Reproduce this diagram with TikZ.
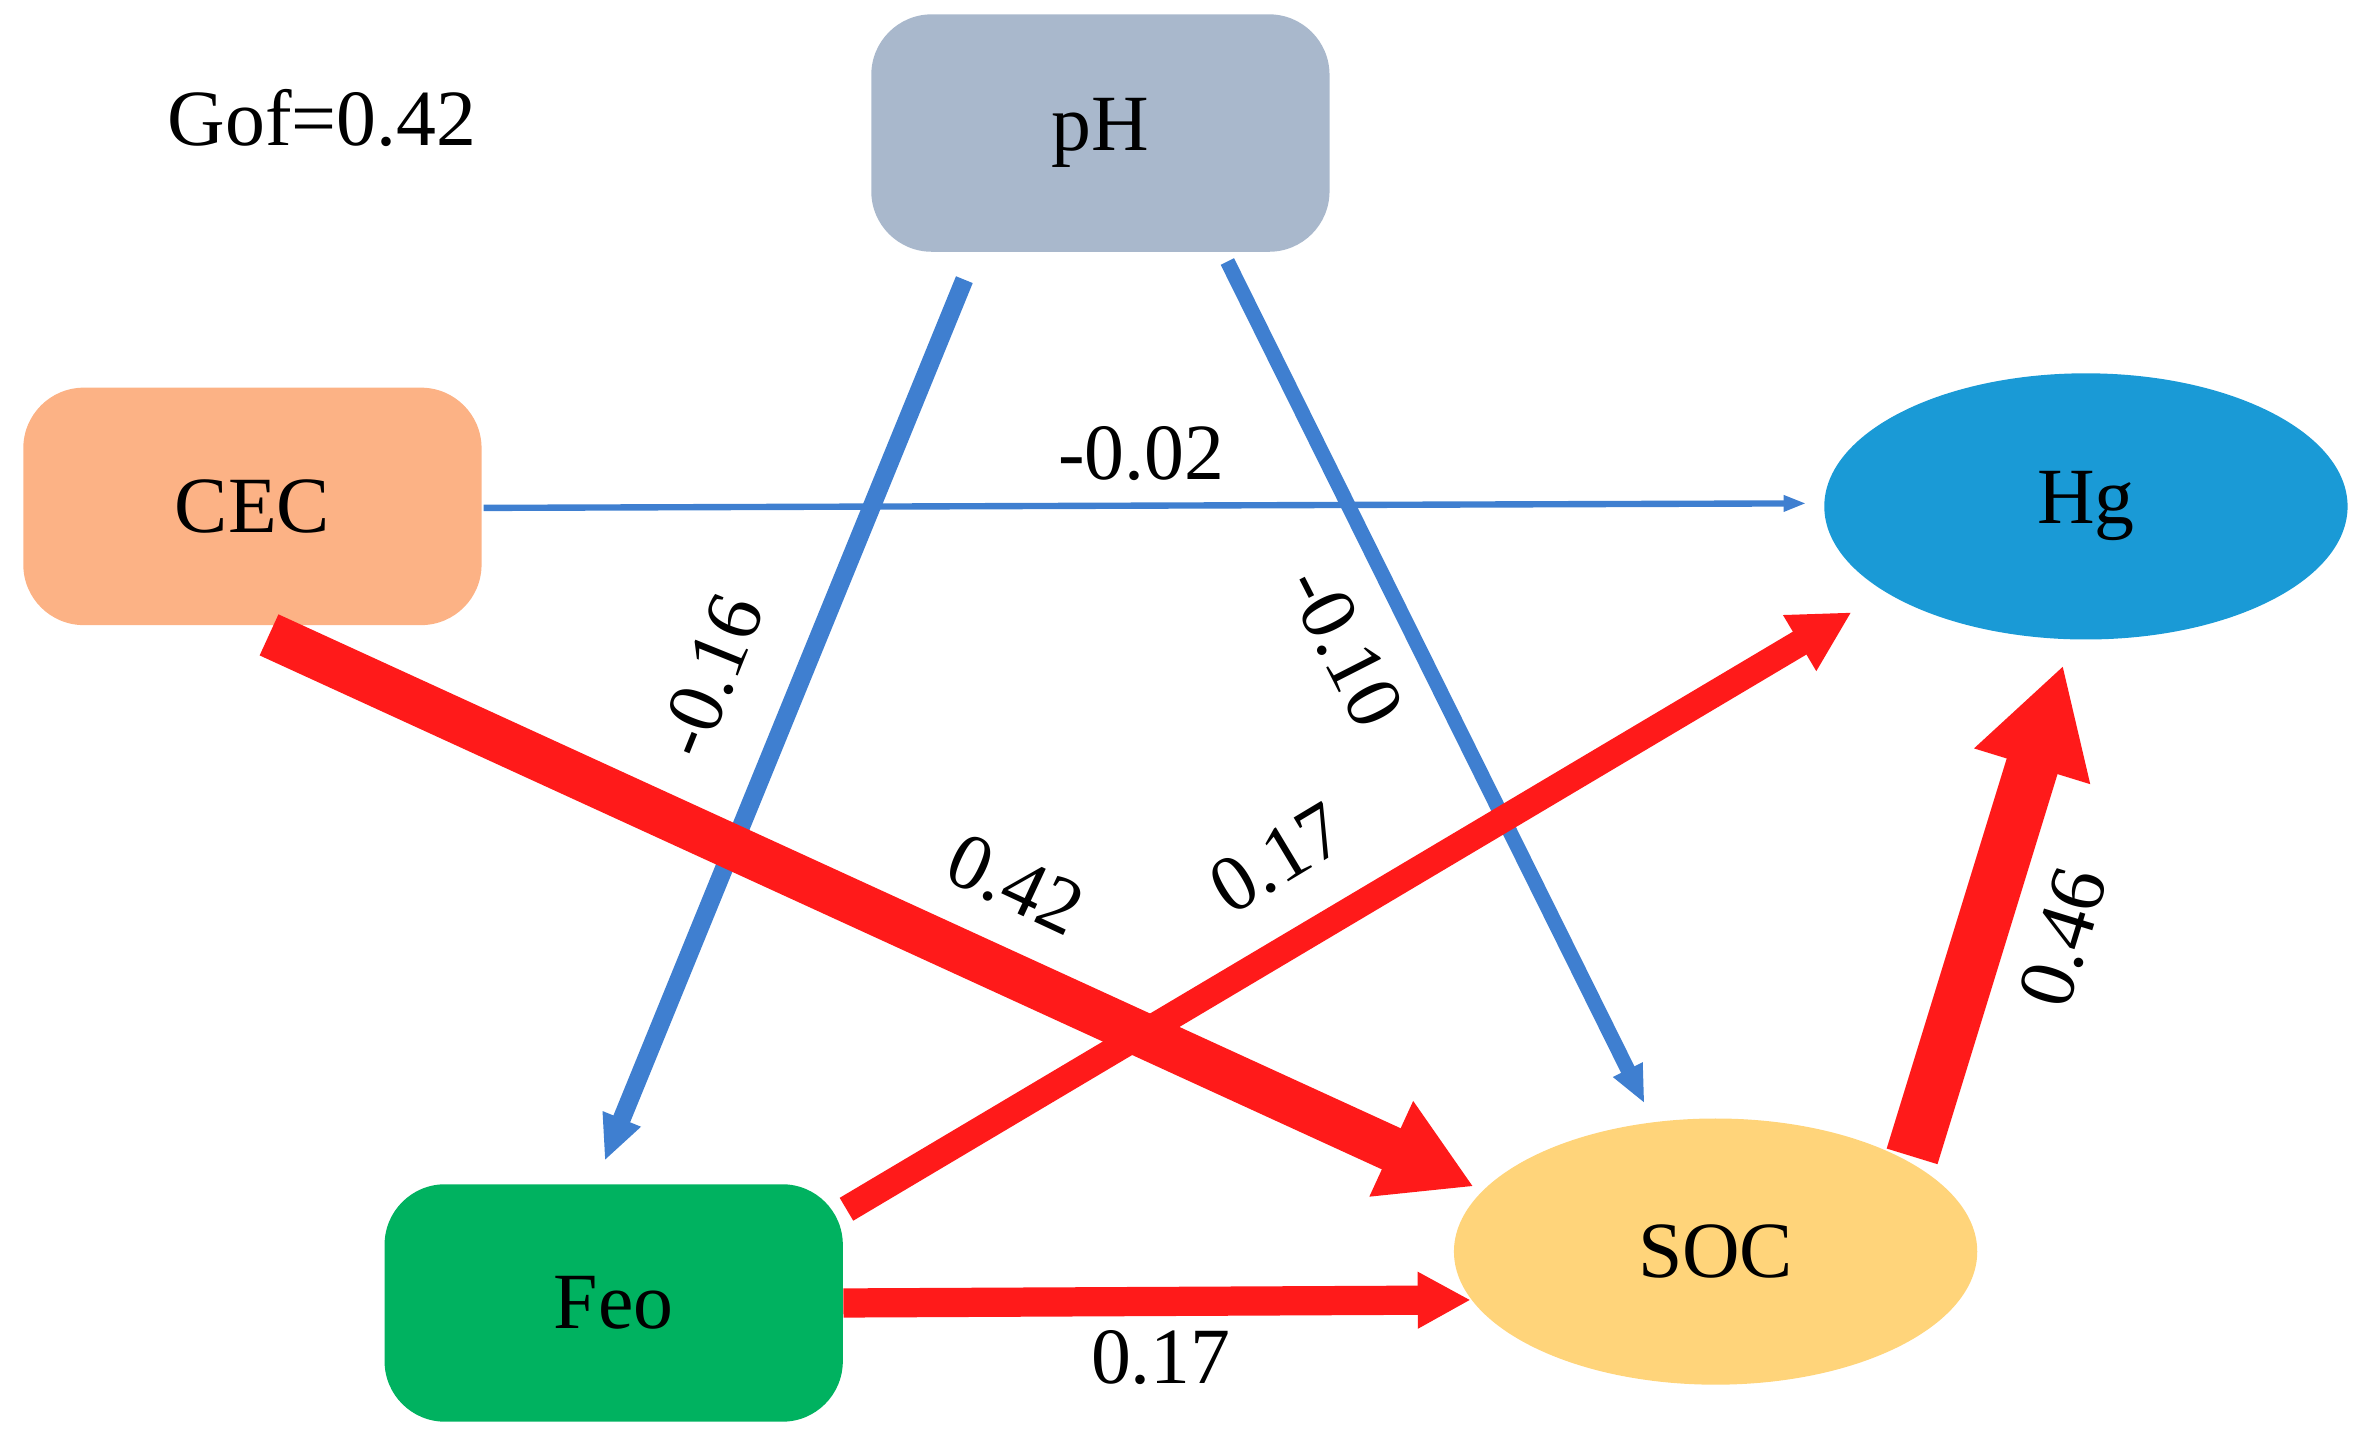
\documentclass[tikz,border=0pt]{standalone}
\usepackage{fontspec}
\setmainfont{Liberation Serif}
\usetikzlibrary{arrows.meta,shapes.geometric}
\definecolor{phc}{HTML}{A9B8CC}
\definecolor{cecc}{HTML}{FCB285}
\definecolor{hgc}{HTML}{1A9AD6}
\definecolor{feoc}{HTML}{00B260}
\definecolor{socc}{HTML}{FFD47A}
\definecolor{bl}{HTML}{3F7FD0}
\definecolor{rd}{HTML}{FF1A1A}
\begin{document}
\begin{tikzpicture}[x={(0.01cm,0)},y={(0,-0.01cm)},
  every node/.style={font=\fontsize{15}{18}\selectfont},
  box/.style={rounded corners=0.4cm,minimum width=3.03cm,minimum height=1.57cm,inner sep=0},
  ell/.style={ellipse,minimum width=3.46cm,minimum height=1.76cm,inner sep=0},
  lab/.style={inner sep=1pt}]
\useasboundingbox (0,0) rectangle (1560,950);
\node[box,fill=phc] (ph) at (728,88) {pH};
\node[box,fill=cecc] (cec) at (167,335) {CEC};
\node[ell,fill=hgc] (hg) at (1380,335) {Hg};
\node[box,fill=feoc] (feo) at (406,862) {Feo};
\node[ell,fill=socc] (soc) at (1135,828) {SOC};
\node at (213,78) {Gof=0.42};
\coordinate (a1) at (638,185); \coordinate (a2) at (400,768);
\coordinate (b1) at (812,173); \coordinate (b2) at (1088,730);
\coordinate (c1) at (320,336); \coordinate (c2) at (1195,333);
\coordinate (d1) at (178,420); \coordinate (d2) at (975,785);
\coordinate (e1) at (560,800); \coordinate (e2) at (1225,405);
\coordinate (f1) at (558,862); \coordinate (f2) at (973,860);
\coordinate (g1) at (1265,765); \coordinate (g2) at (1365,440);
\draw[bl,line width=3.4pt,-{Triangle[length=0.3cm,width=0.25cm]}] (a1) -- (a2);
\draw[bl,line width=2.8pt,-{Triangle[length=0.25cm,width=0.2cm]}] (b1) -- (b2);
\draw[bl,line width=1.2pt,-{Triangle[length=0.15cm,width=0.1cm]}] (c1) -- (c2);
\draw[rd,line width=8.5pt,-{Triangle[length=0.6cm,width=0.65cm]}] (d1) -- (d2);
\draw[rd,line width=5pt,-{Triangle[length=0.4cm,width=0.4cm]}] (e1) -- (e2);
\draw[rd,line width=5.5pt,-{Triangle[length=0.35cm,width=0.35cm]}] (f1) -- (f2);
\draw[rd,line width=10pt,-{Triangle[length=0.7cm,width=0.75cm]}] (g1) -- (g2);
\node[lab,rotate=68] (l1) at (470,447) {-0.16};
\node[lab,rotate=-63] (l2) at (890,428) {-0.10};
\node[lab] (l3) at (755,300) {-0.02};
\node[lab,rotate=-25] (l4) at (672,585) {0.42};
\node[lab,rotate=31] (l5) at (845,568) {0.17};
\node[lab] (l6) at (768,898) {0.17};
\node[lab,rotate=73] (l7) at (1365,620) {0.46};
\end{tikzpicture}
\end{document}
